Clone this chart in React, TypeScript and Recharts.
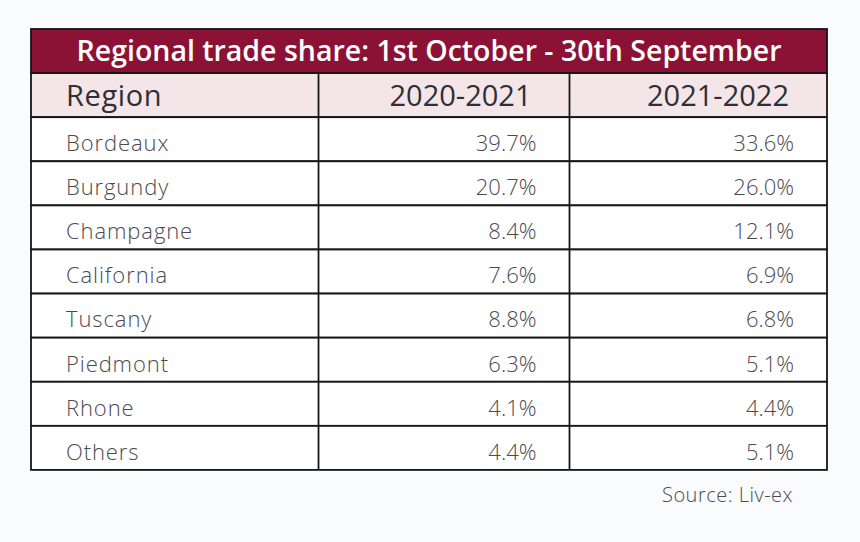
import { BarChart, Bar, XAxis, YAxis } from 'recharts';

// Table content
const title = 'Regional trade share: 1st October - 30th September';
const firstColumnHeader = 'Region';
const seasons = ['2020-2021', '2021-2022'];
const regions = ['Bordeaux', 'Burgundy', 'Champagne', 'California', 'Tuscany', 'Piedmont', 'Rhone', 'Others'];
const share2021 = [39.7, 20.7, 8.4, 7.6, 8.8, 6.3, 4.1, 4.4];
const share2022 = [33.6, 26.0, 12.1, 6.9, 6.8, 5.1, 4.4, 5.1];
const source = 'Source: Liv-ex';

// layout: column edges as fractions of the table width
const COL_EDGES = [0, 0.3612, 0.6765, 1];
const MAROON = '#8c1235';
const PINK = '#f4e5e9';
const BORDER = '#161616';
const FONT = '"Open Sans", "Noto Sans", sans-serif';

const rows = [
  { key: 'title', kind: 'title' },
  { key: 'header', kind: 'header' },
  ...regions.map((r, i) => ({ key: r, kind: 'data', region: r, a: share2021[i], b: share2022[i] })),
];

const fmt = (v: number) => `${v.toFixed(1)}%`;

const RowShape = (props: any) => {
  const { x, y, width, height, payload } = props;
  const cx = COL_EDGES.map((f) => x + width * f);

  if (payload.kind === 'title') {
    return (
      <g>
        <rect x={x} y={y} width={width} height={height} fill={MAROON} stroke={BORDER} strokeWidth={1.8} />
        <text
          x={x + width / 2}
          y={y + height * 0.73}
          textAnchor="middle"
          fill="#ffffff"
          fontFamily={FONT}
          fontSize={28.5}
          fontWeight={600}
        >
          {title}
        </text>
      </g>
    );
  }

  const isHeader = payload.kind === 'header';
  const cells = isHeader ? [firstColumnHeader, seasons[0], seasons[1]] : [payload.region, fmt(payload.a), fmt(payload.b)];
  const size = isHeader ? 29 : 22;
  const base = y + height * (isHeader ? 0.74 : 0.77);
  const color = isHeader ? '#2f2f35' : '#4a4a4f';
  const weight = isHeader ? 400 : 300;
  const rightPad = isHeader ? 38 : 33;
  const spacing = isHeader ? 0.6 : 0.9;

  return (
    <g>
      <rect x={x} y={y} width={width} height={height} fill={isHeader ? PINK : '#ffffff'} stroke={BORDER} strokeWidth={1.8} />
      <line x1={cx[1]} x2={cx[1]} y1={y} y2={y + height} stroke={BORDER} strokeWidth={1.8} />
      <line x1={cx[2]} x2={cx[2]} y1={y} y2={y + height} stroke={BORDER} strokeWidth={1.8} />
      <text x={cx[0] + 35} y={base} fill={color} fontFamily={FONT} fontSize={size} fontWeight={weight} letterSpacing={spacing}>
        {cells[0]}
      </text>
      <text x={cx[2] - rightPad} y={base} textAnchor="end" fill={color} fontFamily={FONT} fontSize={size} fontWeight={weight}>
        {cells[1]}
      </text>
      <text x={cx[3] - rightPad} y={base} textAnchor="end" fill={color} fontFamily={FONT} fontSize={size} fontWeight={weight}>
        {cells[2]}
      </text>
    </g>
  );
};

export default function App() {
  return (
    <div style={{ position: 'fixed', left: 0, top: 0, width: 860, height: 542, background: '#f9fbfd' }}>
      <BarChart
        width={860}
        height={542}
        data={rows}
        layout="vertical"
        margin={{ top: 29, right: 33, bottom: 72, left: 31 }}
        barCategoryGap={0}
        barGap={0}
      >
        <XAxis type="number" domain={[0, 1]} hide />
        <YAxis type="category" dataKey="key" hide />
        <Bar dataKey={() => [0, 1]} shape={<RowShape />} isAnimationActive={false} />
      </BarChart>
      <div
        style={{
          position: 'absolute',
          right: 67,
          top: 481,
          fontFamily: FONT,
          fontSize: 20,
          fontWeight: 300,
          letterSpacing: 0.5,
          color: '#4a4a4f',
        }}
      >
        {source}
      </div>
    </div>
  );
}
